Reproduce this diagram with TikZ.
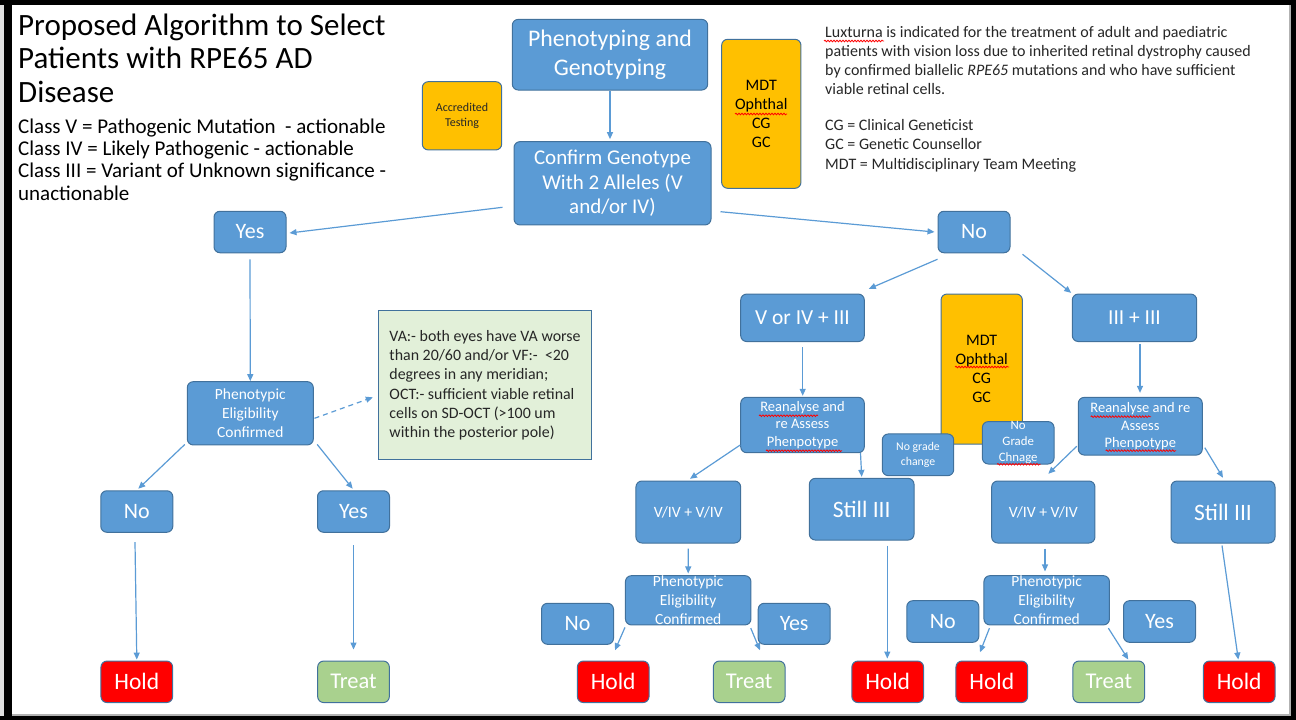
\documentclass[tikz,border=0pt]{standalone}
\usepackage{fontspec}
\setmainfont{Carlito}
\usetikzlibrary{arrows.meta,calc,decorations.pathmorphing}
\definecolor{blu}{HTML}{5B9BD5}
\definecolor{bdr}{HTML}{41719C}
\definecolor{org}{HTML}{FFC000}
\definecolor{redc}{HTML}{FF0000}
\definecolor{grn}{HTML}{A9D18E}
\definecolor{lgrn}{HTML}{E2F0D9}
\definecolor{txtd}{HTML}{262626}
\newcommand\myfs[2]{\fontsize{#1}{#2}\selectfont}
\tikzset{
  box/.style={rectangle, rounded corners=6, draw=bdr, line width=1, fill=blu, text=white, align=center, inner sep=0},
  obox/.style={box, fill=org, text=black},
  hbox/.style={box, fill=redc, minimum width=71.7, minimum height=41.5, font=\myfs{23.5}{26}},
  tbox/.style={box, fill=grn, minimum width=71.7, minimum height=41.5, font=\myfs{22.5}{26}},
  ynbox/.style={box, minimum width=72, minimum height=41.5, font=\myfs{22}{26}},
  pecbox/.style={box, minimum width=125.5, font=\myfs{15.5}{19.2}},
  conn/.style={draw=blu, line width=1.2, -{Triangle[length=7,width=6]}},
  wavy/.style={draw=red, line width=0.8, decorate, decoration={snake, amplitude=0.8, segment length=3}},
  plain/.style={anchor=base west, inner sep=0, align=left, text=black}
}
\begin{document}
\begin{tikzpicture}[x=1pt,y=-1pt]
\useasboundingbox (0,0) rectangle (1296,720);
% frame
\fill[gray!25] (0,0) rectangle (4,720);
\fill[black] (4,0) rectangle (12,720);
\fill[black] (0,0) rectangle (1296,5);
\fill[gray!60] (1288.5,5) rectangle (1290.5,716);
\fill[black] (1290.5,0) rectangle (1296,720);
\fill[gray!60] (12,713.5) rectangle (1290.5,715.5);
\fill[black] (0,715.5) rectangle (1296,720);

% texts (base anchor = baseline of last line)
\node[plain, font=\myfs{31}{33.5}] (title) at (18,102) {Proposed Algorithm to Select\\Patients with RPE65 AD\\Disease};
\node[plain, font=\myfs{21}{22.2}] (classes) at (18,200) {Class V = Pathogenic Mutation \ - actionable\\Class IV = Likely Pathogenic - actionable\\Class III = Variant of Unknown significance -\\unactionable};
\node[plain, font=\myfs{16}{19.1}, text=txtd] (lux) at (825,94.3) {Luxturna is indicated for the treatment of adult and paediatric\\patients with vision loss due to inherited retinal dystrophy caused\\by confirmed biallelic \emph{RPE65} mutations and who have sufficient\\viable retinal cells.};
\node[plain, font=\myfs{16}{19.1}, text=txtd] (abbr) at (825,169) {CG = Clinical Geneticist\\GC = Genetic Counsellor\\MDT = Multidisciplinary Team Meeting};

% top boxes
\node[box, minimum width=195.4, minimum height=70.7, font=\myfs{23.8}{29}] (pheno) at (610,54.7) {Phenotyping and\\Genotyping};
\node[obox, minimum width=79.4, minimum height=68.3, font=\myfs{12}{14.5}, text=txtd] (acc) at (462,115.8) {Accredited\\Testing};
\node[obox, minimum width=79.3, minimum height=149, font=\myfs{16}{19.2}] (mdt1) at (761.3,113.8) {MDT\\Ophthal\\CG\\GC};
\node[box, minimum width=197, minimum height=83.3, font=\myfs{21}{24.5}] (confirm) at (612.5,183.3) {Confirm Genotype\\With 2 Alleles (V\\and/or IV)};
\node[ynbox] (yes1) at (250,232) {Yes};
\node[ynbox] (no1) at (974,232) {No};

% left branch
\node[pecbox, minimum width=126, minimum height=63.3] (pec1) at (250.3,413.3) {Phenotypic\\Eligibility\\Confirmed};
\node[rectangle, draw=bdr, line width=1, fill=lgrn, minimum width=213.4, minimum height=149.3, align=left, inner sep=0, font=\myfs{15.9}{19.2}, text=txtd] (note) at (485,385.3) {VA:- both eyes have VA worse\\than 20/60 and/or VF:- \ {<}20\\degrees in any meridian;\\OCT:- sufficient viable retinal\\cells on SD-OCT ({>}100 um\\within the posterior pole)};
\node[ynbox] (no2) at (136.8,511.5) {No};
\node[ynbox] (yes2) at (353.5,511.5) {Yes};
\node[hbox] (hold1) at (136.8,681.8) {Hold};
\node[tbox] (treat1) at (353.5,681.8) {Treat};

% right branch
\node[box, minimum width=123.6, minimum height=47.5, font=\myfs{21.4}{24}] (vor) at (802.5,317.8) {V or IV + III};
\node[obox, minimum width=81.3, minimum height=150, font=\myfs{16}{19.2}] (mdt2) at (981.7,369) {MDT\\Ophthal\\CG\\GC};
\node[box, minimum width=124.4, minimum height=47.5, font=\myfs{21.4}{24}] (iii) at (1134.5,317.8) {III + III};
\node[box, minimum width=123.6, minimum height=55.4, font=\myfs{14.5}{17.8}] (re1) at (802.5,425) {Reanalyse and\\re Assess\\Phenpotype};
\node[box, minimum width=71.4, minimum height=41.7, font=\myfs{11.8}{15}] (ngc1) at (918,454.8) {No grade\\change};
\node[box, minimum width=71.7, minimum height=42.3, font=\myfs{12.8}{16}] (ngc2) at (1018.2,442.8) {No\\Grade\\Chnage};
\node[box, minimum width=124, minimum height=57.7, font=\myfs{14.5}{17.8}] (re2) at (1140.3,426.2) {Reanalyse and re\\Assess\\Phenpotype};
\node[box, minimum width=104.7, minimum height=62, font=\myfs{15.7}{18}] (v1) at (688.3,512) {V/IV + V/IV};
\node[box, minimum width=104.7, minimum height=61.7, font=\myfs{23.5}{26}] (s1) at (861.7,509.2) {Still III};
\node[box, minimum width=103.3, minimum height=62, font=\myfs{15.7}{18}] (v2) at (1043.3,512) {V/IV + V/IV};
\node[box, minimum width=104, minimum height=62, font=\myfs{23.5}{26}] (s2) at (1223,512) {Still III};
\node[pecbox, minimum height=47.3] (pec2) at (688.2,600.3) {Phenotypic\\Eligibility\\Confirmed};
\node[ynbox, minimum height=41] (no3) at (577.5,623.8) {No};
\node[ynbox, minimum height=41] (yes3) at (794.2,623.8) {Yes};
\node[hbox] (hold2) at (613.2,681.8) {Hold};
\node[tbox] (treat2) at (749.2,681.8) {Treat};
\node[hbox] (hold3) at (887.7,681.8) {Hold};
\node[pecbox, minimum height=47.3] (pec3) at (1046.7,600.3) {Phenotypic\\Eligibility\\Confirmed};
\node[ynbox, minimum height=41.6] (no4) at (942.8,621.5) {No};
\node[ynbox, minimum height=41.6] (yes4) at (1159.5,621.5) {Yes};
\node[hbox] (hold4) at (991.8,681.8) {Hold};
\node[tbox] (treat3) at (1108.8,681.8) {Treat};
\node[hbox] (hold5) at (1239.2,681.8) {Hold};

% connectors
\draw[conn] (pheno.south) -- ($(pheno.south |- confirm.north)+(0,-2)$);
\draw[conn] ($(confirm.west)+(-11,24)$) -- ($(yes1.east)+(3,1)$);
\draw[conn] ($(confirm.east)+(9,28.4)$) -- ($(no1.west)+(-3,0)$);
\draw[conn] ($(yes1.south)+(0,6)$) -- (pec1.north);
\draw[conn] ($(pec1.south west)+(-2,-1)$) -- ($(no2.north)+(1.5,-1.5)$);
\draw[conn] ($(pec1.south east)+(3.4,-1)$) -- ($(yes2.north)+(-0.8,-1.5)$);
\draw[conn] ($(no2.south)+(-1.8,9.4)$) -- ($(hold1.north)+(0,-1)$);
\draw[conn] ($(yes2.south)+(0,12.5)$) -- ($(treat1.north)+(0,-11)$);
\draw[conn, dashed, dash pattern=on 5 off 4] ($(pec1.east)+(0.7,5)$) -- ($(note.west)+(-5,12)$);
\draw[conn] ($(no1.south west)+(0,6)$) -- ($(vor.north east)+(4,-4.7)$);
\draw[conn] ($(no1.south east)+(12,1)$) -- ($(iii.north west)+(-0.6,-0.7)$);
\draw[conn] ($(vor.south)+(0.2,5)$) -- ($(re1.north)+(0.2,-1)$);
\draw[conn] ($(re1.west)+(0,20)$) -- ($(v1.north)+(1.7,-1.7)$);
\draw[conn] ($(re1.south east)+(-4.3,0)$) -- ($(s1.north)+(0,-1)$);
\draw[conn] ($(iii.south)+(5.5,1.8)$) -- ($(re2.north)+(-0.3,-4)$);
\draw[conn] ($(re2.west)+(-1,20)$) -- ($(v2.north)+(5,-6.7)$);
\draw[conn] ($(re2.east)+(2,21.5)$) -- ($(s2.north)+(0,-2.7)$);
\draw[conn] ($(v1.south)+(0,5)$) -- ($(pec2.north)+(0,-1.7)$);
\draw[conn] ($(pec2.south west)+(0,2)$) -- ($(hold2.north)+(1.8,-10.3)$);
\draw[conn] ($(pec2.south east)+(-0.7,2.7)$) -- ($(treat2.north)+(10.8,-10.3)$);
\draw[conn] ($(s1.south)+(25.6,5)$) -- ($(hold3.north)+(-0.4,-2)$);
\draw[conn] ($(v2.south)+(1.7,5)$) -- ($(pec3.north)+(-1.7,-3.7)$);
\draw[conn] ($(pec3.south west)+(6,2.7)$) -- ($(hold4.north)+(-11.8,-8.3)$);
\draw[conn] ($(pec3.south east)+(-1.6,2.7)$) -- ($(treat3.north)+(19.5,-1)$);
\draw[conn] ($(s2.south)+(-1,2)$) -- ($(hold5.north)+(-0.9,-1)$);

% spell-check marks
\draw[wavy] (824,41) -- (884,41);
\draw[wavy] (735,114) -- (787,114);
\draw[wavy] (955,367) -- (1009,367);
\draw[wavy] (759,415.7) -- (818,415.7);
\draw[wavy] (766,450.7) -- (842,450.7);
\draw[wavy] (1090.7,416.7) -- (1151,416.7);
\draw[wavy] (1105.7,450.7) -- (1176,450.7);
\draw[wavy] (997,464.3) -- (1040.7,464.3);
\end{tikzpicture}
\end{document}
